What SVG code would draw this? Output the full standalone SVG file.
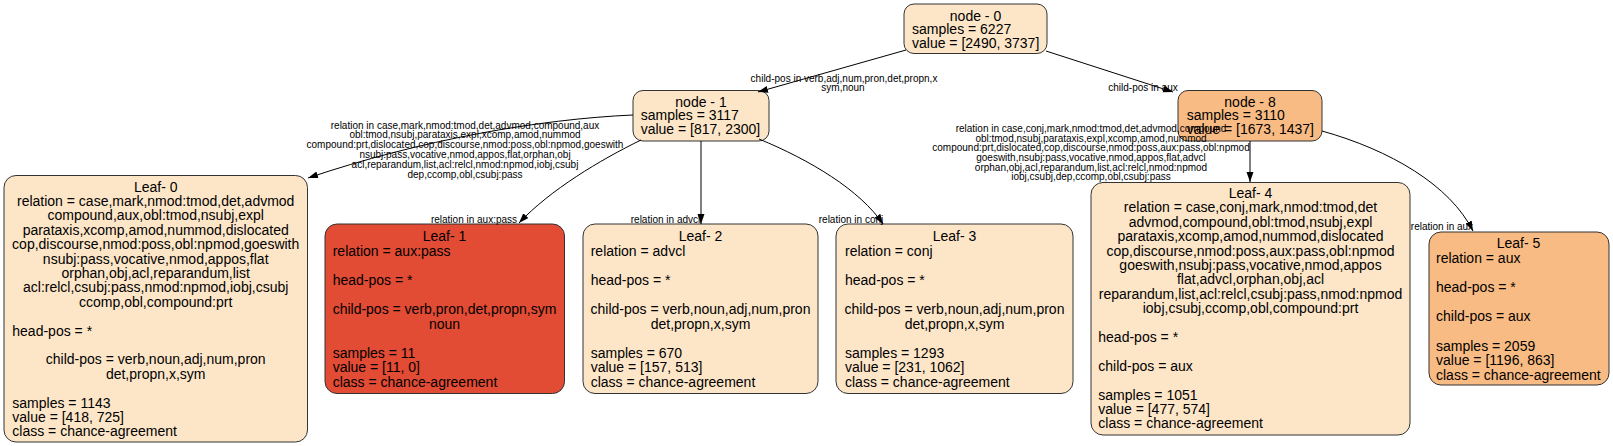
<svg xmlns="http://www.w3.org/2000/svg" width="1613" height="446" viewBox="0 0 1613 446">
<style>
.box{stroke:#333;stroke-width:1}
.lt{fill:#fde6c8}
.or{fill:#f9bb84}
.rd{fill:#e24b34}
text{font-family:"Liberation Sans",Arial,sans-serif;fill:#000}
.n{font-size:14px}
.c{text-anchor:middle}
.e{font-size:10px;text-anchor:middle}
.edge{fill:none;stroke:#000;stroke-width:1}
</style>
<defs>
<marker id="ah" markerUnits="userSpaceOnUse" markerWidth="10" markerHeight="8" refX="10" refY="3.5" orient="auto">
<path d="M0,0 L10,3.5 L0,7 z" fill="#000"/>
</marker>
</defs>
<rect width="1613" height="446" fill="#fff"/>
<g id="node0">
<rect class="box lt" x="904" y="4" width="143" height="49.5" rx="10"/>
<text class="n c" x="975.5" y="20.5">node - 0</text>
<text class="n" x="912" y="34.3">samples = 6227</text>
<text class="n" x="912" y="48">value = [2490, 3737]</text>
</g>
<g id="node1">
<rect class="box lt" x="633" y="90.5" width="136" height="50.5" rx="10"/>
<text class="n c" x="701" y="106.5">node - 1</text>
<text class="n" x="640.7" y="120.2">samples = 3117</text>
<text class="n" x="640.7" y="134">value = [817, 2300]</text>
</g>
<g id="node8">
<rect class="box or" x="1178" y="90.5" width="144" height="50.5" rx="10"/>
<text class="n c" x="1250" y="106.5">node - 8</text>
<text class="n" x="1186.7" y="120.2">samples = 3110</text>
<text class="n" x="1186.7" y="134">value = [1673, 1437]</text>
</g>
<g id="leaf0">
<rect class="box lt" x="4" y="175.5" width="303.5" height="266.5" rx="12"/>
<text class="n c" x="155.7" y="191.5">Leaf- 0</text>
<text class="n c" x="155.7" y="205.9">relation = case,mark,nmod:tmod,det,advmod</text>
<text class="n c" x="155.7" y="220.3">compound,aux,obl:tmod,nsubj,expl</text>
<text class="n c" x="155.7" y="234.7">parataxis,xcomp,amod,nummod,dislocated</text>
<text class="n c" x="155.7" y="249.1">cop,discourse,nmod:poss,obl:npmod,goeswith</text>
<text class="n c" x="155.7" y="263.5">nsubj:pass,vocative,nmod,appos,flat</text>
<text class="n c" x="155.7" y="277.9">orphan,obj,acl,reparandum,list</text>
<text class="n c" x="155.7" y="292.3">acl:relcl,csubj:pass,nmod:npmod,iobj,csubj</text>
<text class="n c" x="155.7" y="306.7">ccomp,obl,compound:prt</text>
<text class="n" x="12.3" y="335.5">head-pos = *</text>
<text class="n c" x="155.7" y="364.3">child-pos = verb,noun,adj,num,pron</text>
<text class="n c" x="155.7" y="378.7">det,propn,x,sym</text>
<text class="n" x="12.3" y="407.5">samples = 1143</text>
<text class="n" x="12.3" y="421.9">value = [418, 725]</text>
<text class="n" x="12.3" y="436.3">class = chance-agreement</text>
</g>
<g id="leaf1">
<rect class="box rd" x="325" y="224" width="239.5" height="169.5" rx="12"/>
<text class="n c" x="444.5" y="241">Leaf- 1</text>
<text class="n" x="332.7" y="255.6">relation = aux:pass</text>
<text class="n" x="332.7" y="284.8">head-pos = *</text>
<text class="n c" x="444.5" y="314">child-pos = verb,pron,det,propn,sym</text>
<text class="n c" x="444.5" y="328.6">noun</text>
<text class="n" x="332.7" y="357.8">samples = 11</text>
<text class="n" x="332.7" y="372.4">value = [11, 0]</text>
<text class="n" x="332.7" y="387">class = chance-agreement</text>
</g>
<g id="leaf2">
<rect class="box lt" x="583" y="224" width="235" height="169.5" rx="12"/>
<text class="n c" x="700.5" y="241">Leaf- 2</text>
<text class="n" x="590.7" y="255.6">relation = advcl</text>
<text class="n" x="590.7" y="284.8">head-pos = *</text>
<text class="n c" x="700.5" y="314">child-pos = verb,noun,adj,num,pron</text>
<text class="n c" x="700.5" y="328.6">det,propn,x,sym</text>
<text class="n" x="590.7" y="357.8">samples = 670</text>
<text class="n" x="590.7" y="372.4">value = [157, 513]</text>
<text class="n" x="590.7" y="387">class = chance-agreement</text>
</g>
<g id="leaf3">
<rect class="box lt" x="836" y="224" width="237" height="169.5" rx="12"/>
<text class="n c" x="954.5" y="241">Leaf- 3</text>
<text class="n" x="845" y="255.6">relation = conj</text>
<text class="n" x="845" y="284.8">head-pos = *</text>
<text class="n c" x="954.5" y="314">child-pos = verb,noun,adj,num,pron</text>
<text class="n c" x="954.5" y="328.6">det,propn,x,sym</text>
<text class="n" x="845" y="357.8">samples = 1293</text>
<text class="n" x="845" y="372.4">value = [231, 1062]</text>
<text class="n" x="845" y="387">class = chance-agreement</text>
</g>
<g id="leaf4">
<rect class="box lt" x="1091" y="182.5" width="319" height="252.5" rx="12"/>
<text class="n c" x="1250.5" y="198">Leaf- 4</text>
<text class="n c" x="1250.5" y="212.4">relation = case,conj,mark,nmod:tmod,det</text>
<text class="n c" x="1250.5" y="226.8">advmod,compound,obl:tmod,nsubj,expl</text>
<text class="n c" x="1250.5" y="241.2">parataxis,xcomp,amod,nummod,dislocated</text>
<text class="n c" x="1250.5" y="255.6">cop,discourse,nmod:poss,aux:pass,obl:npmod</text>
<text class="n c" x="1250.5" y="270">goeswith,nsubj:pass,vocative,nmod,appos</text>
<text class="n c" x="1250.5" y="284.4">flat,advcl,orphan,obj,acl</text>
<text class="n c" x="1250.5" y="298.8">reparandum,list,acl:relcl,csubj:pass,nmod:npmod</text>
<text class="n c" x="1250.5" y="313.2">iobj,csubj,ccomp,obl,compound:prt</text>
<text class="n" x="1098.3" y="342">head-pos = *</text>
<text class="n" x="1098.3" y="370.8">child-pos = aux</text>
<text class="n" x="1098.3" y="399.6">samples = 1051</text>
<text class="n" x="1098.3" y="414">value = [477, 574]</text>
<text class="n" x="1098.3" y="428.4">class = chance-agreement</text>
</g>
<g id="leaf5">
<rect class="box or" x="1429" y="232" width="180" height="153" rx="12"/>
<text class="n c" x="1518.5" y="248">Leaf- 5</text>
<text class="n" x="1436" y="262.7">relation = aux</text>
<text class="n" x="1436" y="292">head-pos = *</text>
<text class="n" x="1436" y="321.3">child-pos = aux</text>
<text class="n" x="1436" y="350.6">samples = 2059</text>
<text class="n" x="1436" y="365.3">value = [1196, 863]</text>
<text class="n" x="1436" y="380">class = chance-agreement</text>
</g>
<g id="edges">
<path class="edge" d="M906,50 L758,92" marker-end="url(#ah)"/>
<path class="edge" d="M1046,51 L1173,92" marker-end="url(#ah)"/>
<path class="edge" d="M633,115 C540,119 420,140 308,178" marker-end="url(#ah)"/>
<path class="edge" d="M641,140 C600,160 550,190 519,223" marker-end="url(#ah)"/>
<path class="edge" d="M701,141 L701,224" marker-end="url(#ah)"/>
<path class="edge" d="M759,139 C810,160 860,190 883,224" marker-end="url(#ah)"/>
<path class="edge" d="M1250,141 L1250,182" marker-end="url(#ah)"/>
<path class="edge" d="M1322,131 C1390,150 1450,185 1473,231" marker-end="url(#ah)"/>
<text class="e" x="844" y="81.5">child-pos in verb,adj,num,pron,det,propn,x</text>
<text class="e" x="843" y="91.3">sym,noun</text>
<text class="e" x="1143" y="90.5">child-pos in aux</text>
<text class="e" x="465" y="128.5">relation in case,mark,nmod:tmod,det,advmod,compound,aux</text>
<text class="e" x="465" y="138.3">obl:tmod,nsubj,parataxis,expl,xcomp,amod,nummod</text>
<text class="e" x="465" y="148.1">compound:prt,dislocated,cop,discourse,nmod:poss,obl:npmod,goeswith</text>
<text class="e" x="465" y="157.9">nsubj:pass,vocative,nmod,appos,flat,orphan,obj</text>
<text class="e" x="465" y="167.7">acl,reparandum,list,acl:relcl,nmod:npmod,iobj,csubj</text>
<text class="e" x="465" y="177.5">dep,ccomp,obl,csubj:pass</text>
<text class="e" x="1091" y="131.8">relation in case,conj,mark,nmod:tmod,det,advmod,compound</text>
<text class="e" x="1091" y="141.5">obl:tmod,nsubj,parataxis,expl,xcomp,amod,nummod</text>
<text class="e" x="1091" y="151.2">compound:prt,dislocated,cop,discourse,nmod:poss,aux:pass,obl:npmod</text>
<text class="e" x="1091" y="160.9">goeswith,nsubj:pass,vocative,nmod,appos,flat,advcl</text>
<text class="e" x="1091" y="170.6">orphan,obj,acl,reparandum,list,acl:relcl,nmod:npmod</text>
<text class="e" x="1091" y="180.3">iobj,csubj,dep,ccomp,obl,csubj:pass</text>
<text class="e" x="474" y="222.5">relation in aux:pass</text>
<text class="e" x="665.5" y="222.5">relation in advcl</text>
<text class="e" x="851" y="222.5">relation in conj</text>
<text class="e" x="1442" y="229.5">relation in aux</text>
</g>
</svg>
